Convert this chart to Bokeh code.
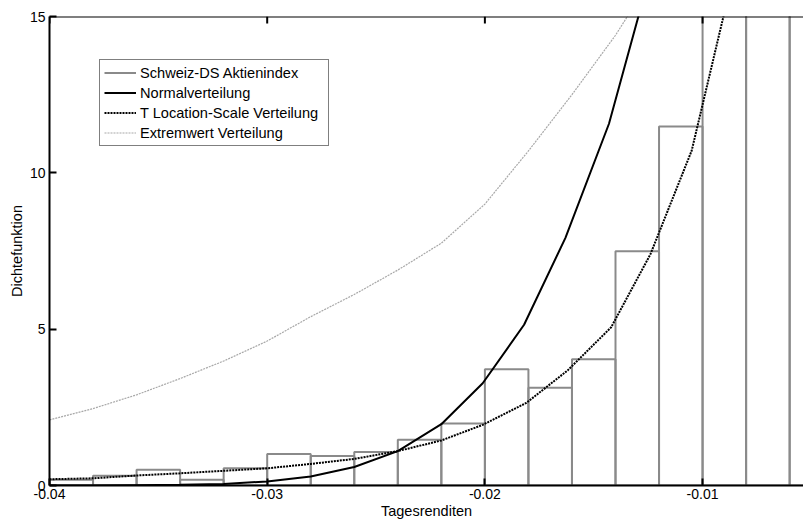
from bokeh.plotting import figure
from bokeh.models import Range1d, FixedTicker, Legend, LegendItem, ColumnDataSource, Span
from bokeh.embed import file_html
from bokeh.resources import INLINE

# ---- data ----
bin_edges = [-0.040, -0.038, -0.036, -0.034, -0.032, -0.030, -0.028, -0.026, -0.024,
             -0.022, -0.020, -0.018, -0.016, -0.014, -0.012, -0.010, -0.008, -0.006, -0.004]
hist_density = [0.18, 0.31, 0.50, 0.18, 0.55, 1.01, 0.94, 1.07, 1.46,
                1.98, 3.72, 3.13, 4.04, 7.49, 11.48, 18.0, 25.0, 33.0]

normal_x = [-0.040, -0.038, -0.036, -0.034, -0.032, -0.030, -0.028, -0.026, -0.024,
            -0.022, -0.0201, -0.0182, -0.0163, -0.0143, -0.0122]
normal_y = [0.0, 0.0, 0.01, 0.02, 0.05, 0.13, 0.29, 0.59, 1.10,
            1.96, 3.27, 5.14, 7.92, 11.57, 16.9]

tls_x = [-0.040, -0.038, -0.036, -0.034, -0.032, -0.030, -0.028, -0.026, -0.024,
         -0.022, -0.0201, -0.0181, -0.0162, -0.0142, -0.0124, -0.0105, -0.0086]
tls_y = [0.20, 0.23, 0.32, 0.39, 0.47, 0.55, 0.69, 0.85, 1.10,
         1.44, 1.94, 2.64, 3.68, 5.06, 7.39, 10.71, 16.3]

ev_x = [-0.040, -0.038, -0.036, -0.034, -0.032, -0.030, -0.028, -0.026, -0.024,
        -0.022, -0.020, -0.018, -0.016, -0.014, -0.012]
ev_y = [2.10, 2.46, 2.90, 3.42, 3.98, 4.62, 5.40, 6.11, 6.89,
        7.75, 9.00, 10.70, 12.50, 14.40, 16.60]

x_ticks = [-0.04, -0.03, -0.02, -0.01]
x_tick_labels = ["-0.04", "-0.03", "-0.02", "-0.01"]
y_ticks = [0, 5, 10, 15]
y_tick_labels = ["0", "5", "10", "15"]

labels = ["Schweiz-DS Aktienindex", "Normalverteilung",
          "T Location-Scale Verteilung", "Extremwert Verteilung"]

FONT = "Liberation Sans"
FS_TICK = "14px"
FS_LABEL = "14.5px"
Y_MAX = 15

p = figure(width=803, height=525, output_backend="svg", toolbar_location=None,
           x_range=Range1d(-0.04, -0.005364), y_range=Range1d(0, Y_MAX),
           min_border_left=49, min_border_right=0, min_border_top=16, min_border_bottom=40,
           x_axis_label="Tagesrenditen", y_axis_label="Dichtefunktion")
p.grid.visible = False
p.outline_line_color = None
p.background_fill_color = "white"
p.border_fill_color = "white"

src = ColumnDataSource(dict(left=bin_edges[:-1], right=bin_edges[1:],
                            top=hist_density, bottom=[0] * len(hist_density)))
p.quad(left="left", right="right", top="top", bottom="bottom", source=src,
       fill_color=None, line_color="#8a8a8a", line_width=2)

r_ev = p.line(ev_x, ev_y, line_color="#a8a8a8", line_width=1.2, line_dash="2 1")
r_norm = p.line(normal_x, normal_y, line_color="black", line_width=2)
r_tls = p.line(tls_x, tls_y, line_color="black", line_width=2, line_dash="2 1")
# legend proxy for the histogram (drawn outside the visible range)
r_hist_proxy = p.line([-0.05, -0.049], [-5, -5], line_color="#8a8a8a", line_width=2)

def style_axis(ax, ticks, tick_labels):
    ax.ticker = FixedTicker(ticks=ticks)
    ax.major_label_overrides = {t: l for t, l in zip(ticks, tick_labels)}
    ax.major_tick_in = 7
    ax.major_tick_out = 0
    ax.minor_tick_line_color = None
    ax.axis_line_width = 2
    ax.axis_line_color = "black"
    ax.major_tick_line_width = 2
    ax.major_tick_line_color = "black"
    ax.major_label_text_font = FONT
    ax.major_label_text_font_size = FS_TICK
    ax.major_label_text_color = "black"
    ax.axis_label_text_font = FONT
    ax.axis_label_text_font_size = FS_LABEL
    ax.axis_label_text_font_style = "normal"
    ax.axis_label_text_color = "black"

style_axis(p.xaxis[0], x_ticks, x_tick_labels)
p.xaxis[0].major_label_standoff = 3
p.xaxis[0].axis_label_standoff = 1
style_axis(p.yaxis[0], y_ticks, y_tick_labels)
p.yaxis[0].major_label_standoff = 4
p.yaxis[0].axis_label_standoff = 2

# top border with inward ticks
p.add_layout(Span(location=Y_MAX, dimension="width", line_color="black", line_width=2))
tick_len = 7.0 / (469.0 / Y_MAX)
p.segment(x0=x_ticks, y0=[Y_MAX] * len(x_ticks), x1=x_ticks,
          y1=[Y_MAX - tick_len] * len(x_ticks), line_color="black", line_width=2)

legend = Legend(items=[LegendItem(label=labels[0], renderers=[r_hist_proxy]),
                       LegendItem(label=labels[1], renderers=[r_norm]),
                       LegendItem(label=labels[2], renderers=[r_tls]),
                       LegendItem(label=labels[3], renderers=[r_ev])],
                location=(50, 339))
legend.label_text_font = FONT
legend.label_text_font_size = "14.6px"
legend.label_text_color = "black"
legend.glyph_width = 32
legend.glyph_height = 17
legend.label_height = 17
legend.label_width = 184
legend.label_standoff = 4
legend.spacing = 3
legend.padding = 4
legend.margin = 0
legend.border_line_color = "black"
legend.border_line_width = 1.5
legend.background_fill_color = "white"
legend.background_fill_alpha = 1.0
p.add_layout(legend)

open("out.html", "w").write(file_html(p, INLINE))
